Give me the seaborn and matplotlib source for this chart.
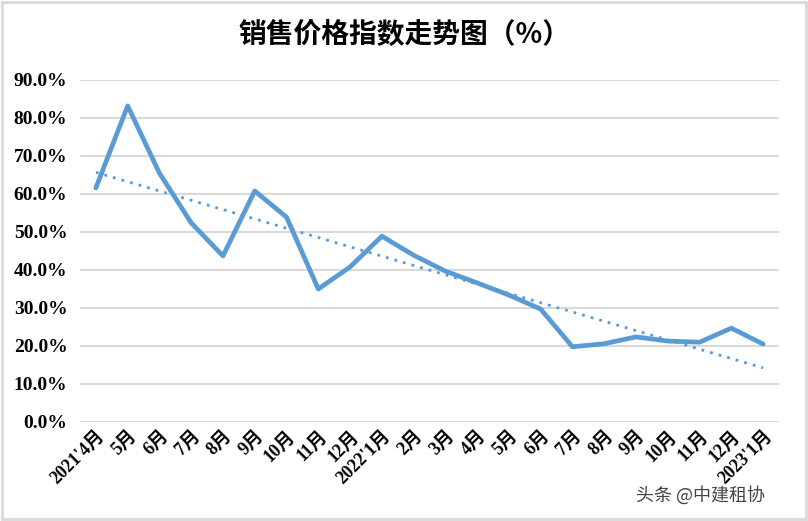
import numpy as np
import pandas as pd
import matplotlib
matplotlib.use("Agg")
import matplotlib.pyplot as plt
import seaborn as sns
from matplotlib.patches import Rectangle

months = ["2021'4月", "5月", "6月", "7月", "8月", "9月", "10月", "11月", "12月",
          "2022'1月", "2月", "3月", "4月", "5月", "6月", "7月", "8月", "9月",
          "10月", "11月", "12月", "2023'1月"]
values = [61.6, 83.2, 65.5, 52.4, 43.7, 60.8, 53.9, 35.0, 40.8,
          48.9, 43.9, 39.7, 36.6, 33.4, 29.7, 19.8, 20.6, 22.4,
          21.3, 21.0, 24.7, 20.5]
yticks = [0, 10, 20, 30, 40, 50, 60, 70, 80, 90]

sns.set_theme(style="white")
plt.rcParams['font.family'] = ['Liberation Serif', 'Noto Sans CJK SC']
plt.rcParams['text.color'] = 'black'
plt.rcParams['xtick.color'] = 'black'
plt.rcParams['ytick.color'] = 'black'

df = pd.DataFrame({"idx": np.arange(len(months)), "value": values})
coef = np.polyfit(df["idx"], df["value"], 1)
df["trend"] = np.polyval(coef, df["idx"])

fig = plt.figure(figsize=(8.08, 5.21), dpi=100)
ax = fig.add_axes([80/808, 1 - 422/521, 699/808, (422-80)/521])

sns.lineplot(data=df, x="idx", y="value", ax=ax, color="#5B9BD5", linewidth=3.4)
sns.lineplot(data=df, x="idx", y="trend", ax=ax, color="#5B9BD5", linewidth=2.0,
             linestyle=(0, (1, 2.2)))

ax.set_xlim(-0.5, len(months) - 0.5)
ax.set_ylim(0, 90)
ax.set_yticks(yticks)
ax.set_yticklabels([f"{v:.1f}%" for v in yticks], fontsize=14, fontweight="bold")
ax.set_xticks(np.arange(len(months)))
ax.set_xticklabels(months, rotation=45, ha="right", rotation_mode="anchor",
                   fontsize=13, fontweight="bold")
ax.tick_params(axis="y", length=0, pad=9)
ax.tick_params(axis="x", length=0, pad=4)
for v in yticks:
    ax.axhline(v, color="#D9D9D9", linewidth=1.5, zorder=0)
for s in ax.spines.values():
    s.set_visible(False)
ax.set_xlabel("")
ax.set_ylabel("")

fig.text(0.5, 1 - 35/521, "销售价格指数走势图（%）", ha="center", va="center",
         fontsize=20, fontweight="bold", color="black", family=['Noto Sans CJK SC'])
fig.text(765/808, 1 - 495/521, "头条 @中建租协", ha="right", va="center",
         fontsize=13, color="#444444", family=['Noto Sans CJK SC'])
fig.patches.append(Rectangle((0.002, 0.003), 0.996, 0.994, transform=fig.transFigure,
                             fill=False, edgecolor="#D9D9D9", linewidth=2))

fig.savefig("out.png", dpi=100)
